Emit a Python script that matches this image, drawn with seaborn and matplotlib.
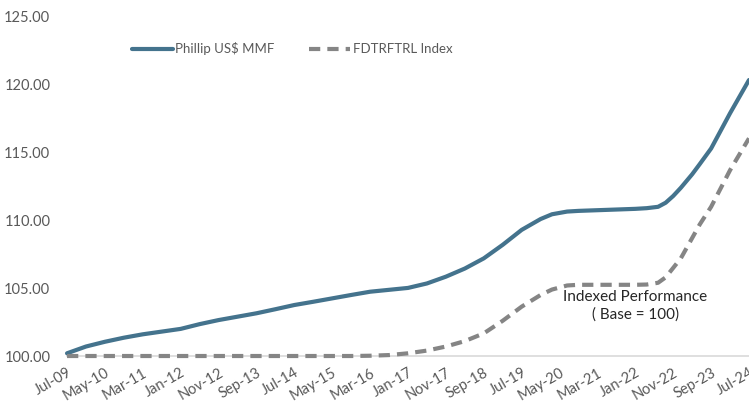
import seaborn as sns
import matplotlib.pyplot as plt
import numpy as np
import pandas as pd

# months since Jul-09
months = [0, 5, 10, 15, 20, 25, 30, 35, 40, 45, 50, 55, 60, 65, 70, 75, 80,
          85, 90, 95, 100, 105, 110, 115, 120, 125, 128, 132, 135, 140, 145,
          150, 153, 156, 158, 160, 162, 165, 167, 170, 175, 180]
phillip = [100.2, 100.7, 101.05, 101.35, 101.6, 101.8, 102.0, 102.35, 102.65,
           102.9, 103.15, 103.45, 103.76, 104.0, 104.25, 104.5, 104.74,
           104.88, 105.02, 105.35, 105.85, 106.45, 107.2, 108.2, 109.3,
           110.1, 110.45, 110.65, 110.7, 110.75, 110.8, 110.85, 110.9,
           111.0, 111.3, 111.8, 112.4, 113.4, 114.15, 115.3, 117.9, 120.35]
index = [100.0, 100.0, 100.0, 100.0, 100.0, 100.0, 100.0, 100.0, 100.0,
         100.0, 100.0, 100.0, 100.0, 100.0, 100.0, 100.0, 100.02,
         100.07, 100.2, 100.4, 100.7, 101.1, 101.67, 102.6, 103.64,
         104.5, 104.9, 105.2, 105.25, 105.25, 105.25, 105.25, 105.27,
         105.4, 105.8, 106.5, 107.2, 108.7, 109.7, 111.0, 113.7, 116.05]

tick_months = list(range(0, 181, 10))
tick_labels = ['Jul-09', 'May-10', 'Mar-11', 'Jan-12', 'Nov-12', 'Sep-13',
               'Jul-14', 'May-15', 'Mar-16', 'Jan-17', 'Nov-17', 'Sep-18',
               'Jul-19', 'May-20', 'Mar-21', 'Jan-22', 'Nov-22', 'Sep-23',
               'Jul-24']

df = pd.DataFrame({'month': months, 'Phillip US$ MMF': phillip,
                   'FDTRFTRL Index': index})

sns.set_style("white")
plt.rcParams['font.family'] = ['Lato', 'DejaVu Sans']

fig = plt.figure(figsize=(7.49, 4.03), dpi=100)
ax = fig.add_axes([0.0895, 0.1166, 0.9105, 0.8414])

sns.lineplot(data=df, x='month', y='Phillip US$ MMF', ax=ax, color='#44738d',
             linewidth=3.0, label='Phillip US$ MMF', clip_on=False, zorder=3)
sns.lineplot(data=df, x='month', y='FDTRFTRL Index', ax=ax, color='#858585',
             linewidth=3.0, linestyle=(0, (2.7, 1.7)), label='FDTRFTRL Index',
             clip_on=False, zorder=3)

ax.set_xlim(0, 180)
ax.set_ylim(100, 125)
ax.set_yticks([100, 105, 110, 115, 120, 125])
ax.set_yticklabels(['%.2f' % v for v in [100, 105, 110, 115, 120, 125]])
ax.set_xticks(tick_months)
ax.set_xticklabels(tick_labels, rotation=30, ha='right', rotation_mode='anchor')
ax.set_xlabel('')
ax.set_ylabel('')

for s in ['top', 'right', 'left']:
    ax.spines[s].set_visible(False)
ax.spines['bottom'].set_color('#d9d9d9')
ax.spines['bottom'].set_linewidth(1.2)
ax.tick_params(axis='x', colors='#d9d9d9', labelcolor='#595959', length=4,
               width=1.2, direction='out', labelsize=10.5, pad=3)
ax.tick_params(axis='y', length=0, labelcolor='#595959', labelsize=10.5, pad=12)

ax.legend(loc='upper center', bbox_to_anchor=(0.33, 0.96), ncol=2, frameon=False,
          fontsize=9.5, handlelength=3.1, columnspacing=2.6, labelcolor='#595959',
          handletextpad=0.2)

ax.text(0.833, 0.147, 'Indexed Performance\n( Base = 100)', transform=ax.transAxes,
        ha='center', va='center', fontsize=11, color='#262626', linespacing=1.3)

fig.savefig('out.png', dpi=100)
